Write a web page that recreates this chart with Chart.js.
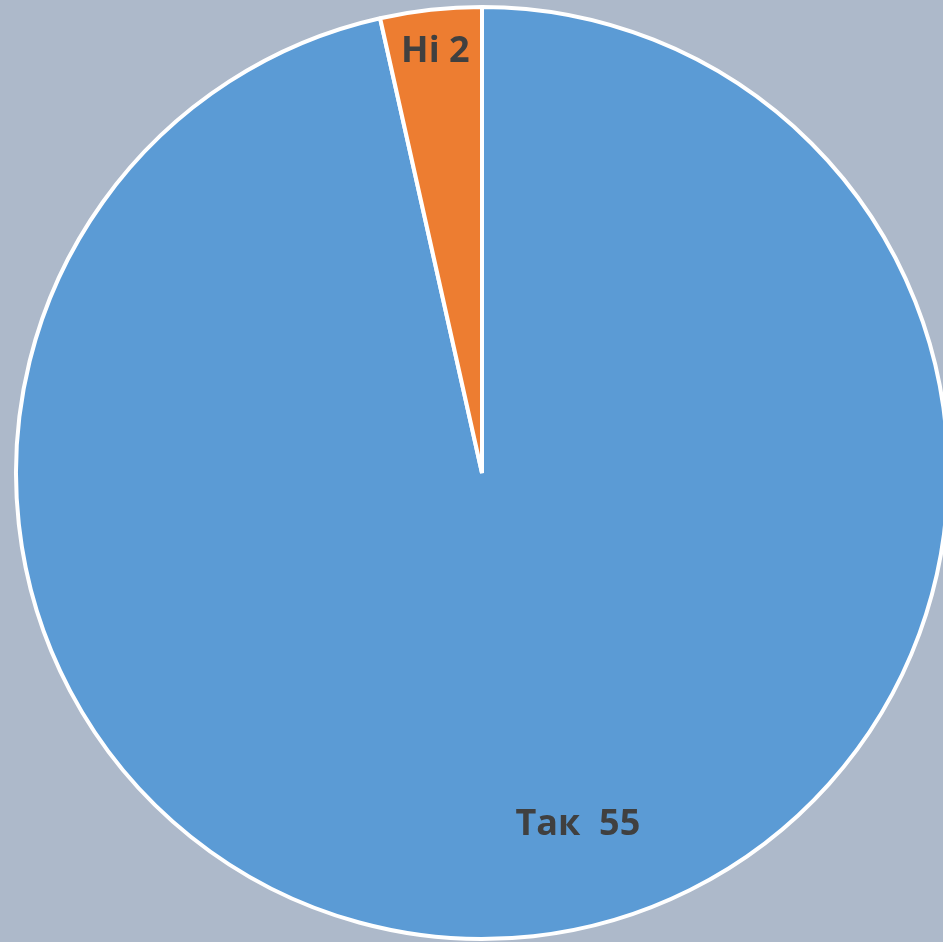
<!DOCTYPE html>
<html>
<head>
<meta charset="utf-8">
<script src="https://cdn.jsdelivr.net/npm/chart.js@4/dist/chart.umd.min.js"></script>
<style>
  html, body { margin: 0; padding: 0; background: #ADB9CA; overflow: hidden; width: 943px; height: 942px; }
  #wrap { position: absolute; left: 0; top: 0; width: 964px; height: 946px; }
</style>
</head>
<body>
<div id="wrap"><canvas id="c"></canvas></div>
<script>
const categories = ['Так', 'Ні'];
const values = [55, 2];
const labelTexts = ['Так  55', 'Ні 2'];
const colors = ['#5B9BD5', '#ED7D31'];

const sliceLabels = {
  id: 'sliceLabels',
  afterDatasetsDraw(chart, args, opts) {
    const ctx = chart.ctx;
    const meta = chart.getDatasetMeta(0);
    ctx.save();
    ctx.font = opts.font;
    ctx.fillStyle = opts.color;
    ctx.textAlign = 'center';
    ctx.textBaseline = 'middle';
    meta.data.forEach((arc, i) => {
      const p = arc.getProps(['x', 'y', 'startAngle', 'endAngle', 'outerRadius'], true);
      const mid = (p.startAngle + p.endAngle) / 2 + (opts.angleShift[i] || 0);
      const r = p.outerRadius * opts.radial[i];
      ctx.fillText(labelTexts[i], p.x + Math.cos(mid) * r, p.y + Math.sin(mid) * r);
    });
    ctx.restore();
  }
};

new Chart(document.getElementById('c'), {
  type: 'pie',
  data: {
    labels: categories,
    datasets: [{
      data: values,
      backgroundColor: colors,
      borderColor: '#FFFFFF',
      borderWidth: 4
    }]
  },
  options: {
    responsive: true,
    maintainAspectRatio: false,
    animation: false,
    layout: { padding: { top: 5, bottom: 5, left: 14, right: 14 } },
    plugins: {
      legend: { display: false },
      tooltip: { enabled: false },
      sliceLabels: {
        font: 'bold 36px "Open Sans"',
        color: '#404040',
        radial: [0.782, 0.91],
        angleShift: [-0.156, 0]
      }
    }
  },
  plugins: [sliceLabels]
});
</script>
</body>
</html>
